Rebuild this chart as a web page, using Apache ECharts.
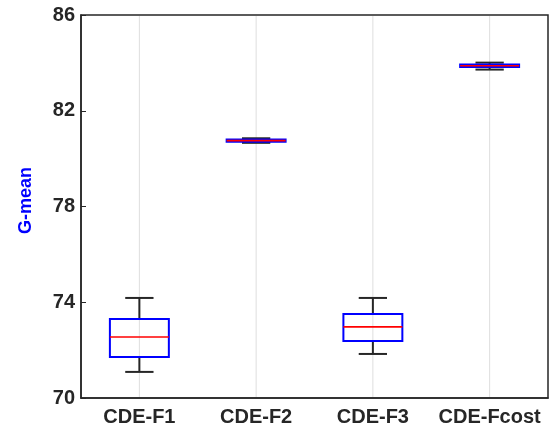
<!DOCTYPE html>
<html>
<head>
<meta charset="utf-8">
<script src="https://cdn.jsdelivr.net/npm/echarts@6/dist/echarts.min.js"></script>
<style>html,body{margin:0;padding:0;background:#fff;}#c{width:550px;height:432px;}</style>
</head>
<body>
<div id="c"></div>
<script>
const categories = ['CDE-F1', 'CDE-F2', 'CDE-F3', 'CDE-Fcost'];
const lowWhisker  = [71.09, 80.66, 71.84, 83.72];
const q1          = [71.71, 80.70, 72.38, 83.83];
const medians     = [72.55, 80.75, 72.97, 83.88];
const q3          = [73.30, 80.80, 73.51, 83.93];
const highWhisker = [74.18, 80.85, 74.18, 84.01];
const yTicks = { min: 70, max: 86, interval: 4 };

const data = categories.map((c, i) => [i, lowWhisker[i], q1[i], medians[i], q3[i], highWhisker[i]]);

const chart = echarts.init(document.getElementById('c'), null, { renderer: 'canvas' });
const FONT = 'Liberation Sans';
const AX = '#262626';

chart.setOption({
  animation: false,
  backgroundColor: '#fff',
  grid: { left: 81, right: 2, top: 15, bottom: 34, show: true, borderColor: AX, borderWidth: 1.5, containLabel: false },
  xAxis: {
    type: 'category',
    data: categories,
    boundaryGap: true,
    axisLine: { lineStyle: { color: AX, width: 1.5 } },
    axisTick: { inside: true, alignWithLabel: true, length: 5, lineStyle: { color: AX, width: 1 } },
    axisLabel: { interval: 0, fontFamily: FONT, fontSize: 20, fontWeight: 'bold', color: AX, margin: 9 },
    splitLine: { show: false }
  },
  yAxis: {
    type: 'value',
    min: yTicks.min, max: yTicks.max, interval: yTicks.interval,
    name: 'G-mean',
    nameLocation: 'middle',
    nameGap: 46,
    nameTextStyle: { fontFamily: FONT, fontSize: 18, fontWeight: 'bold', color: '#0000ff', padding: [0, 0, 0, 12] },
    axisLine: { show: true, lineStyle: { color: AX, width: 1.5 } },
    axisTick: { show: true, inside: true, length: 5, lineStyle: { color: AX, width: 1 } },
    axisLabel: { fontFamily: FONT, fontSize: 20, fontWeight: 'bold', color: AX, margin: 6 },
    splitLine: { show: false }
  },
  series: [{
    type: 'custom',
    data: data,
    encode: { x: 0, y: [1, 2, 3, 4, 5] },
    renderItem: function (params, api) {
      const x = api.value(0);
      const pLow = api.coord([x, api.value(1)]);
      const pQ1 = api.coord([x, api.value(2)]);
      const pMed = api.coord([x, api.value(3)]);
      const pQ3 = api.coord([x, api.value(4)]);
      const pHigh = api.coord([x, api.value(5)]);
      const cx = pMed[0];
      const bw = api.size([1, 0])[0] * 0.505;
      const cw = bw * 0.48;
      const cs = params.coordSys;
      const wStyle = { stroke: '#262626', lineWidth: 2 };
      return {
        type: 'group',
        children: [
          { type: 'line', shape: { x1: cx, y1: cs.y + 1, x2: cx, y2: cs.y + cs.height - 1 }, style: { stroke: '#dedede', lineWidth: 1 } },
          { type: 'line', shape: { x1: cx, y1: pHigh[1], x2: cx, y2: pQ3[1] }, style: wStyle },
          { type: 'line', shape: { x1: cx, y1: pQ1[1], x2: cx, y2: pLow[1] }, style: wStyle },
          { type: 'line', shape: { x1: cx - cw / 2, y1: pHigh[1], x2: cx + cw / 2, y2: pHigh[1] }, style: wStyle },
          { type: 'line', shape: { x1: cx - cw / 2, y1: pLow[1], x2: cx + cw / 2, y2: pLow[1] }, style: wStyle },
          { type: 'rect', shape: { x: cx - bw / 2, y: pQ3[1], width: bw, height: pQ1[1] - pQ3[1] }, style: { stroke: '#0000ff', fill: 'none', lineWidth: 2 } },
          { type: 'line', shape: { x1: cx - bw / 2, y1: pMed[1], x2: cx + bw / 2, y2: pMed[1] }, style: { stroke: '#ff0000', lineWidth: 1.6 } }
        ]
      };
    }
  }]
});
</script>
</body>
</html>
